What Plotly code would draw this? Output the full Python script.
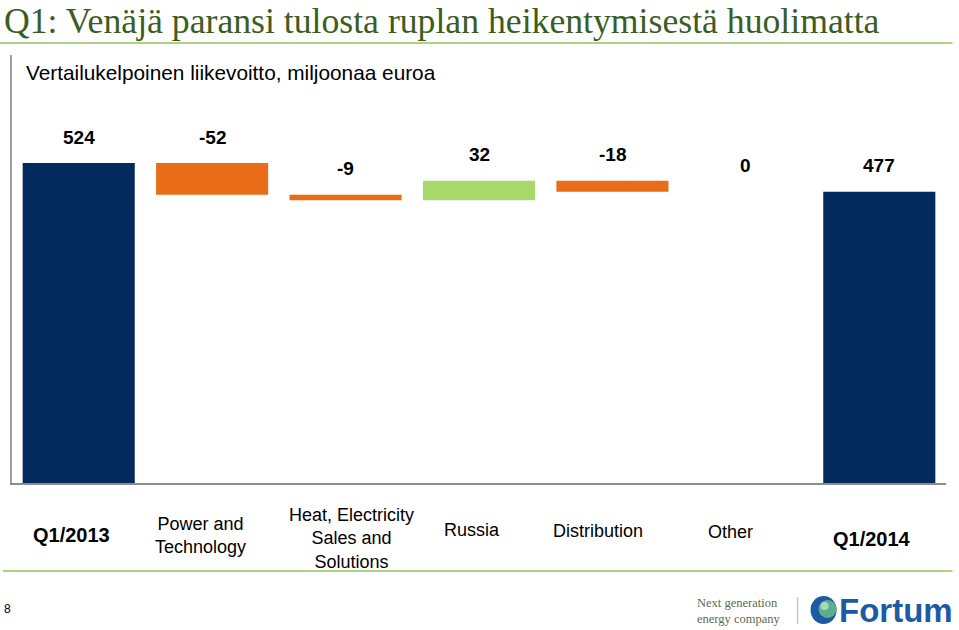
import plotly.graph_objects as go

# ---------------- data ----------------
categories = ["Q1/2013", "Power and<br>Technology", "Heat, Electricity<br>Sales and<br>Solutions",
              "Russia", "Distribution", "Other", "Q1/2014"]
values = [524, -52, -9, 32, -18, 0, 477]
measures = ["absolute", "relative", "relative", "relative", "relative", "relative", "total"]
value_labels = ["524", "-52", "-9", "32", "-18", "0", "477"]
bold_categories = [True, False, False, False, False, False, True]

title_text = "Q1: Venäjä paransi tulosta ruplan heikentymisestä huolimatta"
subtitle_text = "Vertailukelpoinen liikevoitto, miljoonaa euroa"

# ---------------- layout constants ----------------
W, H = 959, 630
ML, MR, MT, MB = 12, 12.5, 55, 147
PW, PH = W - ML - MR, H - MT - MB

NAVY = "#022a5c"
ORANGE = "#e96d16"
GREEN = "#a6d86a"
TITLE_GREEN = "#3b5d1f"
LINE_GREEN = "#93c35b"


def px(x):
    return (x - ML) / PW


def py(y):
    return (H - MB - y) / PH


x_ids = list(range(len(categories)))

fig = go.Figure(go.Waterfall(
    x=x_ids,
    y=values,
    measure=measures,
    connector=dict(visible=False),
    increasing=dict(marker=dict(color=GREEN, line=dict(width=0))),
    decreasing=dict(marker=dict(color=ORANGE, line=dict(width=0))),
    totals=dict(marker=dict(color=NAVY, line=dict(width=0))),
    textinfo="none",
    hoverinfo="skip",
))

annotations = []
shapes = []

# value labels above each bar
running = 0
for i, (v, m, lab) in enumerate(zip(values, measures, value_labels)):
    if m == "absolute":
        start, end = 0, v
        running = v
    elif m == "total":
        start, end = 0, running
    else:
        start, end = running, running + v
        running += v
    top = max(start, end)
    annotations.append(dict(x=i, y=top, xref="x", yref="y", text=f"<b>{lab}</b>",
                            showarrow=False, yanchor="middle", yshift=26,
                            font=dict(family="Arial, Liberation Sans", size=19, color="black")))

# category labels below axis (small per-label nudges as in the original slide)
label_xshift = [-7, -12, 6, -7, -14, -15, -7]
label_yshift = [0, 0, -3, 5, 4, 3, -4]
for i, (c, b) in enumerate(zip(categories, bold_categories)):
    annotations.append(dict(x=i, y=py(535), xref="x", yref="paper",
                            text=f"<b>{c}</b>" if b else c, showarrow=False,
                            yanchor="middle", xshift=label_xshift[i], yshift=label_yshift[i],
                            font=dict(family="Arial, Liberation Sans", size=20 if b else 18,
                                      color="black")))

# title and subtitle
annotations.append(dict(x=px(3), y=py(0), xref="paper", yref="paper", text=title_text,
                        showarrow=False, xanchor="left", yanchor="top", borderpad=0,
                        font=dict(family="Liberation Serif, Times New Roman", size=35.7,
                                  color=TITLE_GREEN)))
annotations.append(dict(x=px(24), y=py(73), xref="paper", yref="paper", text=subtitle_text,
                        showarrow=False, xanchor="left", yanchor="middle",
                        font=dict(family="Arial, Liberation Sans", size=20.8, color="black")))

# footer
annotations.append(dict(x=px(2), y=py(609), xref="paper", yref="paper", text="8",
                        showarrow=False, xanchor="left", yanchor="middle",
                        font=dict(family="Arial, Liberation Sans", size=12, color="black")))
annotations.append(dict(x=px(782), y=py(611), xref="paper", yref="paper",
                        text="Next generation<br>energy company", showarrow=False,
                        xanchor="right", yanchor="middle", align="left",
                        font=dict(family="Liberation Serif, Times New Roman", size=12.5,
                                  color="#5c6a55")))
annotations.append(dict(x=px(956), y=py(610), xref="paper", yref="paper",
                        text="<b>Fortum</b>", showarrow=False, xanchor="right", yanchor="middle",
                        font=dict(family="Arial, Liberation Sans", size=33, color="#1d5aa6")))

# lines
shapes.append(dict(type="line", xref="paper", yref="paper", x0=px(0), x1=px(953),
                   y0=py(43), y1=py(43), line=dict(color=LINE_GREEN, width=1.5)))
shapes.append(dict(type="line", xref="paper", yref="paper", x0=px(3), x1=px(953),
                   y0=py(571), y1=py(571), line=dict(color=LINE_GREEN, width=1.5)))
shapes.append(dict(type="line", xref="paper", yref="paper", x0=px(798), x1=px(798),
                   y0=py(597), y1=py(624), line=dict(color="#c8c8c8", width=1.5)))
# logo icon
shapes.append(dict(type="circle", xref="paper", yref="paper", xsizemode="pixel", ysizemode="pixel",
                   xanchor=px(824), yanchor=py(610), x0=-13, x1=13, y0=-14, y1=14,
                   fillcolor="#1d5aa6", line=dict(width=0)))
shapes.append(dict(type="circle", xref="paper", yref="paper", xsizemode="pixel", ysizemode="pixel",
                   xanchor=px(828), yanchor=py(609), x0=-9, x1=9, y0=-9, y1=9,
                   fillcolor="#5fae8a", line=dict(width=0)))
shapes.append(dict(type="circle", xref="paper", yref="paper", xsizemode="pixel", ysizemode="pixel",
                   xanchor=px(825), yanchor=py(606), x0=-4, x1=4, y0=-4, y1=4,
                   fillcolor="#a9d9b5", line=dict(width=0)))

fig.update_layout(
    width=W, height=H,
    margin=dict(l=ML, r=MR, t=MT, b=MB, pad=0),
    paper_bgcolor="white", plot_bgcolor="white",
    showlegend=False,
    waterfallgap=0.16,
    xaxis=dict(type="linear", range=[-0.5, len(categories) - 0.5], showticklabels=False,
               showgrid=False, zeroline=False, showline=True, linecolor="#8c8c8c",
               linewidth=1.5, ticks=""),
    yaxis=dict(range=[0, 701], showticklabels=False, showgrid=False, zeroline=False,
               showline=True, linecolor="#a0a0a0", linewidth=1.5, ticks=""),
    annotations=annotations,
    shapes=shapes,
)

fig.write_html("out.html", config={"displayModeBar": False},
               post_script="document.body.style.margin='0';document.body.style.padding='0';"
                           "document.body.style.overflow='hidden';")
